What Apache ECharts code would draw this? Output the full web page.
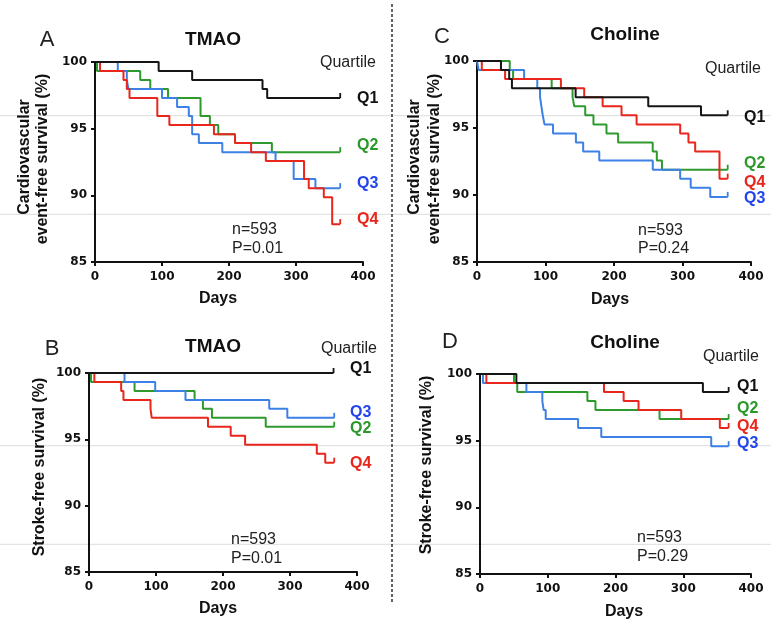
<!DOCTYPE html>
<html>
<head>
<meta charset="utf-8">
<script src="https://cdn.jsdelivr.net/npm/echarts@6/dist/echarts.min.js"></script>
<style>
html,body{margin:0;padding:0;background:#fff;}
#chart{width:771px;height:626px;}
</style>
</head>
<body>
<div id="chart"></div>
<script>
// ---- data: event days and survival (%) after each event ----
const xTicks = [0, 100, 200, 300, 400];
const yTicks = [85, 90, 95, 100];

// Panel A: TMAO, cardiovascular event-free survival
const A_Q1_days = [0, 95, 145, 250, 257, 366];
const A_Q1_surv = [100, 99.32, 98.65, 97.97, 97.30, 97.30];
const A_Q2_days = [0, 3, 67.5, 82.5, 109, 157.5, 171.5, 184, 209, 264, 366];
const A_Q2_surv = [100, 99.32, 98.65, 97.97, 97.30, 95.95, 95.27, 94.59, 93.92, 93.24, 93.24];
const A_Q3_days = [0, 34, 47.5, 50, 100, 122.5, 140, 145, 155, 190, 269.5, 296.5, 329, 366];
const A_Q3_surv = [100, 99.32, 98.65, 97.97, 97.30, 96.62, 95.95, 94.59, 93.92, 93.24, 92.57, 91.22, 90.54, 90.54];
const A_Q4_days = [0, 7.5, 42.5, 47.5, 51.5, 93, 111, 177.5, 209, 233, 255, 312, 319, 341.5, 354, 366];
const A_Q4_surv = [100, 99.32, 98.65, 97.97, 97.30, 95.95, 95.27, 94.59, 93.92, 93.24, 92.57, 91.22, 90.54, 89.86, 87.84, 87.84];

// Panel C: Choline, cardiovascular event-free survival
const C_Q1_days = [0, 35, 47, 51, 144, 250, 327, 366];
const C_Q1_surv = [100, 99.32, 98.65, 97.97, 97.30, 96.62, 95.95, 95.95];
const C_Q2_days = [0, 47.8, 52.7, 109, 139.5, 142, 158, 170, 189, 206, 256.5, 262.5, 270, 366];
const C_Q2_surv = [100, 99.32, 98.65, 97.97, 97.30, 96.62, 95.95, 95.27, 94.59, 93.92, 93.24, 92.57, 91.89, 91.89];
const C_Q3_days = [0, 2.5, 68.8, 88, 92, 94, 96, 98.5, 111, 144.4, 155, 178.5, 256.6, 296.6, 312, 340.5, 366];
const C_Q3_surv = [100, 99.32, 98.65, 97.97, 97.30, 96.62, 95.95, 95.27, 94.59, 93.92, 93.24, 92.57, 91.89, 91.22, 90.54, 89.86, 89.86];
const C_Q4_days = [0, 7, 41, 122.5, 156.5, 183.4, 211, 233, 296.6, 308.7, 318.5, 354, 366];
const C_Q4_surv = [100, 99.32, 98.65, 97.97, 97.30, 96.62, 95.95, 95.27, 94.59, 93.92, 93.24, 91.22, 91.22];

// Panel B: TMAO, stroke-free survival
const B_Q1_days = [0, 365];
const B_Q1_surv = [100, 100];
const B_Q2_days = [0, 3, 68, 157.6, 170, 183.5, 263.8, 366];
const B_Q2_surv = [100, 99.32, 98.65, 97.97, 97.30, 96.62, 95.95, 95.95];
const B_Q3_days = [0, 53, 98.8, 144, 269, 296, 366];
const B_Q3_surv = [100, 99.32, 98.65, 97.97, 97.30, 96.62, 96.62];
const B_Q4_days = [0, 8, 48, 51.4, 91.8, 93.6, 177.6, 211.5, 233, 340, 352.6, 366];
const B_Q4_surv = [100, 99.32, 98.65, 97.97, 97.30, 96.62, 95.95, 95.27, 94.59, 93.92, 93.24, 93.24];

// Panel D: Choline, stroke-free survival
const D_Q1_days = [0, 53.7, 329, 367];
const D_Q1_surv = [100, 99.32, 98.65, 98.65];
const D_Q2_days = [0, 50.2, 55, 158.5, 170.4, 265, 367];
const D_Q2_surv = [100, 99.32, 98.65, 97.97, 97.30, 96.62, 96.62];
const D_Q3_days = [0, 4.4, 68.5, 92, 94, 97, 144.8, 179, 341.3, 367];
const D_Q3_surv = [100, 99.32, 98.65, 97.97, 97.30, 96.62, 95.95, 95.27, 94.59, 94.59];
const D_Q4_days = [0, 9.4, 183, 212, 234, 297, 354, 367];
const D_Q4_surv = [100, 99.32, 98.65, 97.97, 97.30, 96.62, 95.95, 95.95];

const panelLetters = ['A', 'C', 'B', 'D'];
const panelTitles = ['TMAO', 'Choline', 'TMAO', 'Choline'];
const pValues = ['P=0.01', 'P=0.24', 'P=0.01', 'P=0.29'];
const nText = 'n=593';
const quartileNames = ['Q1', 'Q2', 'Q3', 'Q4'];

// ---- styling ----
const LINE_COL = {Q1: '#151515', Q2: '#2e9a2e', Q3: '#3d80e6', Q4: '#e8261c'};
const TEXT_COL = {Q1: '#111111', Q2: '#2a992a', Q3: '#2244ee', Q4: '#e8261c'};
const SANS = '"Liberation Sans", Arial, sans-serif';
const TICKF = '"DejaVu Sans", sans-serif';

const grids = [
  {left: 95, top: 62, width: 268, height: 200},
  {left: 477, top: 61, width: 274, height: 201},
  {left: 89, top: 373, width: 268, height: 199},
  {left: 480, top: 374, width: 271, height: 200}
];

function mkX(i) {
  return {
    type: 'value', gridIndex: i, min: 0, max: 400, interval: 100,
    axisLine: {show: true, onZero: false, lineStyle: {color: '#111', width: 2}},
    axisTick: {show: true, length: 4, lineStyle: {color: '#111', width: 2}},
    axisLabel: {margin: 9, color: '#111', fontFamily: TICKF, fontWeight: 'bold', fontSize: 12,
      formatter: v => xTicks.includes(v) ? String(v) : ''},
    splitLine: {show: false}
  };
}
function mkY(i) {
  return {
    type: 'value', gridIndex: i, min: 85, max: 100, interval: 5,
    axisLine: {show: true, onZero: false, lineStyle: {color: '#111', width: 2}},
    axisTick: {show: true, length: 4, lineStyle: {color: '#111', width: 2}},
    axisLabel: {margin: 8, color: '#111', fontFamily: TICKF, fontWeight: 'bold', fontSize: 12,
      formatter: v => yTicks.includes(v) ? String(v) : ''},
    splitLine: {show: false}
  };
}

function mkSeries(gi, q, days, surv) {
  const data = days.map((d, i) => {
    if (i === days.length - 1) {
      return {value: [d, surv[i]], symbol: 'rect', symbolSize: [1.8, 5], symbolOffset: [0, -2.5],
        itemStyle: {color: LINE_COL[q]}};
    }
    return {value: [d, surv[i]], symbol: 'none'};
  });
  return {
    type: 'line', xAxisIndex: gi, yAxisIndex: gi, step: 'end',
    showSymbol: true, showAllSymbol: true, symbol: 'none',
    lineStyle: {color: LINE_COL[q], width: 2},
    itemStyle: {color: LINE_COL[q]},
    data: data, silent: true, animation: false, z: q === 'Q1' ? 3 : 2
  };
}

const series = [
  mkSeries(0, 'Q1', A_Q1_days, A_Q1_surv), mkSeries(0, 'Q2', A_Q2_days, A_Q2_surv),
  mkSeries(0, 'Q3', A_Q3_days, A_Q3_surv), mkSeries(0, 'Q4', A_Q4_days, A_Q4_surv),
  mkSeries(1, 'Q1', C_Q1_days, C_Q1_surv), mkSeries(1, 'Q2', C_Q2_days, C_Q2_surv),
  mkSeries(1, 'Q3', C_Q3_days, C_Q3_surv), mkSeries(1, 'Q4', C_Q4_days, C_Q4_surv),
  mkSeries(2, 'Q1', B_Q1_days, B_Q1_surv), mkSeries(2, 'Q2', B_Q2_days, B_Q2_surv),
  mkSeries(2, 'Q3', B_Q3_days, B_Q3_surv), mkSeries(2, 'Q4', B_Q4_days, B_Q4_surv),
  mkSeries(3, 'Q1', D_Q1_days, D_Q1_surv), mkSeries(3, 'Q2', D_Q2_days, D_Q2_surv),
  mkSeries(3, 'Q3', D_Q3_days, D_Q3_surv), mkSeries(3, 'Q4', D_Q4_days, D_Q4_surv)
];

// ---- annotation layout ----
function txt(text, x, y, opt) {
  opt = opt || {};
  return {
    type: 'text', x: x, y: y, rotation: opt.rot || 0, silent: true, z: 10,
    style: {
      text: text, x: 0, y: 0,
      font: (opt.bold ? 'bold ' : '') + (opt.size || 16) + 'px ' + SANS,
      fill: opt.color || '#111',
      textAlign: opt.align || 'left', align: opt.align || 'left',
      textVerticalAlign: 'middle', verticalAlign: 'middle'
    }
  };
}

const panelLayout = [
  {letter: [47, 40], title: [213, 40], quart: [376, 63], qx: 357, qy: [99, 146, 184, 220], n: [232, 230, 249], days: [218, 299],
   yt: [[24.5, 157, 'Cardiovascular'], [42.5, 159, 'event-free survival (%)']]},
  {letter: [442, 37], title: [625, 35], quart: [761, 69], qx: 744, qy: [118, 164, 199, 183], n: [638, 231, 249], days: [610, 300],
   yt: [[415, 157, 'Cardiovascular'], [435, 159, 'event-free survival (%)']]},
  {letter: [52, 349], title: [213, 347], quart: [377, 349], qx: 350, qy: [369, 429, 413, 464], n: [231, 540, 559], days: [218, 609],
   yt: [[40, 467, 'Stroke-free survival (%)']]},
  {letter: [450, 342], title: [625, 343], quart: [759, 357], qx: 737, qy: [387, 409, 444, 427], n: [637, 538, 557], days: [624, 612],
   yt: [[427, 465, 'Stroke-free survival (%)']]}
];

const graphics = [];
// faint horizontal scan lines and dashed divider
[115.7, 214.3, 445.7, 544.3].forEach(y => graphics.push({
  type: 'line', silent: true, z: 0, shape: {x1: 0, y1: y, x2: 771, y2: y},
  style: {stroke: '#dcdcdc', lineWidth: 1}
}));
graphics.push({
  type: 'line', silent: true, z: 0, shape: {x1: 392, y1: 4, x2: 392, y2: 603},
  style: {stroke: '#111', lineWidth: 1.3, lineDash: [3, 2]}
});

panelLayout.forEach((p, i) => {
  graphics.push(txt(panelLetters[i], p.letter[0], p.letter[1], {size: 22, align: 'center', color: '#222'}));
  graphics.push(txt(panelTitles[i], p.title[0], p.title[1], {size: 19, bold: true, align: 'center'}));
  graphics.push(txt('Quartile', p.quart[0], p.quart[1], {size: 16, align: 'right', color: '#222'}));
  quartileNames.forEach((q, k) => {
    graphics.push(txt(q, p.qx, p.qy[k], {size: 16, bold: true, color: TEXT_COL[q]}));
  });
  graphics.push(txt(nText, p.n[0], p.n[1], {size: 16, color: '#222'}));
  graphics.push(txt(pValues[i], p.n[0], p.n[2], {size: 16, color: '#222'}));
  graphics.push(txt('Days', p.days[0], p.days[1], {size: 16, bold: true, align: 'center'}));
  p.yt.forEach(t => graphics.push(txt(t[2], t[0], t[1], {size: 16, bold: true, align: 'center', rot: Math.PI / 2})));
});

const chart = echarts.init(document.getElementById('chart'), null, {renderer: 'canvas'});
chart.setOption({
  animation: false,
  backgroundColor: '#ffffff',
  grid: grids.map(g => Object.assign({containLabel: false}, g)),
  xAxis: [0, 1, 2, 3].map(mkX),
  yAxis: [0, 1, 2, 3].map(mkY),
  series: series,
  graphic: {elements: graphics}
});
</script>
</body>
</html>
